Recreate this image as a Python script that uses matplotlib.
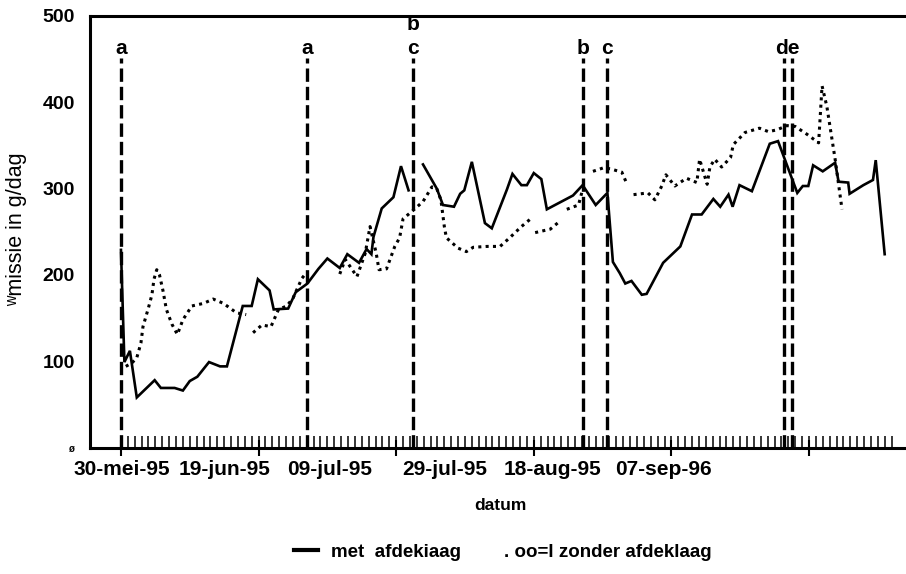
import numpy as np
import matplotlib
matplotlib.use('Agg')
import matplotlib.pyplot as plt
from matplotlib import font_manager as fm
from matplotlib.lines import Line2D

avail = {f.name for f in fm.fontManager.ttflist}
FONT = 'Liberation Sans Narrow' if 'Liberation Sans Narrow' in avail else 'Liberation Sans'
plt.rcParams['font.family'] = [FONT, 'DejaVu Sans']
plt.rcParams['font.weight'] = 'bold'

nan = np.nan

# ---- data (x = days since 30-mei-95) ----
met_day = [0.0, 0.5, 1.3, 2.3, 4.9, 5.8, 7.8, 9.0, 10.0, 11.1,
           12.8, 14.4, 15.4, 17.7, 19.0, 19.9, 21.6, 22.2, 24.3, 25.4,
           27.1, 28.7, 30.0, 31.8, 32.9, 34.6, 35.7, 36.4, 36.7, 37.9,
           39.6, 40.7, 41.8, 42.9, 43.9, 45.9, 46.8, 48.4, 49.3, 49.9,
           51.0, 52.9, 53.9, 56.1, 56.9, 58.2, 59.0, 60.0, 61.1, 61.9,
           65.7, 67.1, 69.0, 70.7, 71.5, 72.5, 73.3, 74.2, 75.7, 76.4,
           78.8, 81.3, 83.0, 84.4, 86.1, 87.1, 88.3, 88.9, 89.9, 91.7,
           94.3, 95.5, 98.3, 99.1, 99.9, 100.6, 102.0, 103.8, 104.3, 105.7,
           105.9, 107.9, 109.3, 109.7, 111.0]
met_val = [229, 99, 112, 58, 78, 69, 69, 66, 77, 82,
           99, 94, 94, 164, 164, 195, 182, 160, 161, 180,
           190, 207, 219, 208, 224, 214, 230, 224, 244, 277,
           290, 326, 298, nan, 328, 300, 281, 279, 294, 298,
           331, 260, 254, 299, 317, 304, 304, 318, 311, 276,
           292, 304, 281, 295, 215, 202, 190, 193, 177, 178,
           214, 233, 270, 270, 288, 279, 293, 279, 304, 297,
           352, 355, 295, 303, 303, 327, 320, 330, 308, 307,
           294, 304, 310, 333, 224]

zonder_day = [0.7, 1.6, 2.3, 2.9, 3.2, 4.0, 4.5, 4.8, 5.2, 5.6,
              6.1, 6.6, 7.4, 8.2, 9.0, 10.3, 12.0, 13.4, 14.9, 16.8,
              18.2, 18.7, 19.2, 20.5, 21.8, 22.9, 24.1, 25.0, 26.3, 26.7,
              29.0, 31.8, 32.6, 34.3, 35.5, 36.2, 37.1, 37.5, 38.6, 39.8,
              40.5, 41.0, 42.5, 43.9, 45.2, 45.9, 46.5, 47.0, 47.3, 49.0,
              50.2, 51.2, 53.2, 55.1, 56.5, 58.2, 59.7, 59.9, 60.2, 62.4,
              63.6, 64.2, 64.8, 66.5, 67.1, 67.8, 68.6, 70.1, 71.1, 72.8,
              73.4, 73.9, 74.5, 76.6, 77.6, 78.6, 79.2, 80.5, 82.2, 83.7,
              84.1, 85.2, 85.6, 86.3, 87.3, 88.6, 89.0, 90.7, 92.8, 94.1,
              95.3, 96.8, 98.0, 99.7, 101.4, 101.9, 102.6, 103.8, 104.8]
zonder_val = [94, 98, 104, 121, 140, 162, 177, 195, 206, 200,
              182, 160, 143, 131, 148, 164, 167, 172, 167, 156,
              154, nan, 133, 142, 140, 160, 164, 173, 196, 200,
              nan, 201, 218, 198, 225, 256, 225, 206, 207, 233,
              243, 265, 275, 285, 302, 300, 287, 256, 243, 231,
              227, 232, 233, 233, 243, 256, 266, nan, 249, 253,
              261, nan, 276, 281, 299, nan, 320, 324, 323, 319,
              308, nan, 293, 295, 287, 303, 316, 303, 312, 307,
              334, 305, 325, 334, 325, 336, 351, 365, 370, 366,
              368, 373, 372, 363, 353, 419, 395, 334, 276]

date_labels = ['30-mei-95', '19-jun-95', '09-jul-95', '29-jul-95', '18-aug-95', '07-sep-96']
event_day = [0.0, 27.0, 42.5, 67.1, 70.7, 96.3, 97.5]
event_text = [('a', 0.0), ('a', 27.0), ('c', 42.5), ('b', 67.1), ('c', 70.7), ('de', 96.9)]
event_text_top = [('b', 42.5)]
series_labels = ['met  afdekiaag', '. oo=l zonder afdeklaag']
y_ticks = [0, 100, 200, 300, 400, 500]
y_ticklabels = ['ø', '100', '200', '300', '400', '500']

# ---- layout ----
label_pos = [0.07, 15.1, 30.4, 47.1, 62.7, 78.8]

fig = plt.figure(figsize=(9.06, 5.74), dpi=100)
ax = fig.add_axes([90/906, 1-447.5/574, 816/906, 431.5/574])
ax.set_xlim(-4.5, 114.1)
ax.set_ylim(0, 500)

# event dashed lines
ax.vlines(event_day, 0, 451, colors='black', linewidth=2.4,
          linestyles=[(0, (4, 1.5))])
for t, d in event_text:
    ax.text(d, 462, t, ha='center', va='center', fontsize=15)
for t, d in event_text_top:
    ax.text(d, 490, t, ha='center', va='center', fontsize=15)

# series
l1, = ax.plot(met_day, met_val, color='black', lw=1.9, solid_joinstyle='miter')
l2, = ax.plot(zonder_day, zonder_val, color='black', lw=2.2,
              linestyle=(0, (1, 1.4)), dash_capstyle='butt')

# spines
for s in ['left', 'top', 'bottom']:
    ax.spines[s].set_linewidth(2.2)
ax.spines['right'].set_visible(False)

# y axis
ax.set_yticks(y_ticks)
ylabs = ax.set_yticklabels(y_ticklabels, fontsize=14)
ylabs[0].set_fontsize(7)
ax.tick_params(axis='y', which='major', length=0, pad=11)
ax.set_yticks([300, 400], minor=True)
ax.tick_params(axis='y', which='minor', direction='in', length=8, width=2.2)
ax.set_ylabel('ʷmissie in g/dag', fontsize=15.5)
ax.yaxis.set_label_coords(-0.077, 0.506)

# x axis
ax.set_xticks(label_pos)
ax.set_xticklabels(date_labels, fontsize=15)
ax.tick_params(axis='x', which='major', length=0, pad=9)
ax.set_xticks(np.arange(0, 113), minor=True)
ax.tick_params(axis='x', which='minor', direction='in', length=8.5, width=1.1)
sec = ax.secondary_xaxis('bottom')
sec.set_xticks(np.arange(0, 101, 20))
sec.tick_params(axis='x', direction='inout', length=12, width=1.5, labelbottom=False)
sec.spines['bottom'].set_visible(False)

fig.text(500/906, 1-505/574, 'datum', ha='center', va='center', fontsize=12.5)

h2 = Line2D([], [], color='none')
fig.legend([l1, h2], series_labels, loc='center', bbox_to_anchor=(503/906, 1-552/574),
           ncol=2, frameon=False, fontsize=13.5, handlelength=1.3, handletextpad=0.7,
           columnspacing=0.3)
l_leg = fig.legends[0].get_lines()[0]
l_leg.set_linewidth(3)

fig.savefig('out.png', dpi=100)
